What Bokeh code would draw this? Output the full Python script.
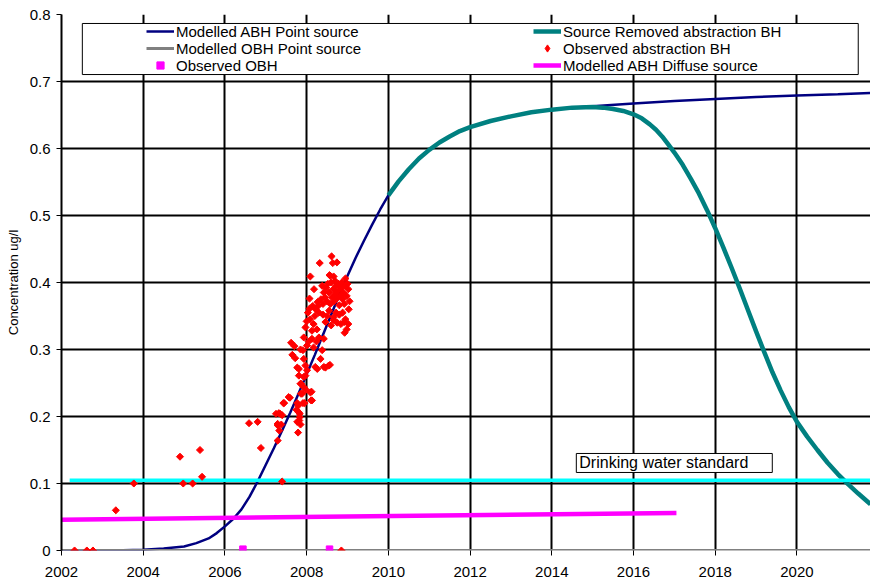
import math
from bokeh.plotting import figure
from bokeh.models import Range1d, FixedTicker, Legend, LegendItem, BoxAnnotation, Label
from bokeh.embed import file_html
from bokeh.resources import INLINE

FONT = "Liberation Sans"

# ---------------- data ----------------
x_ticks = [2002, 2004, 2006, 2008, 2010, 2012, 2014, 2016, 2018, 2020]
y_ticks = [0, 0.1, 0.2, 0.3, 0.4, 0.5, 0.6, 0.7, 0.8]
y_tick_labels = ["0", "0.1", "0.2", "0.3", "0.4", "0.5", "0.6", "0.7", "0.8"]

# Modelled ABH Point source
abh_year = [2002.0, 2003.0, 2003.5, 2004.0, 2004.5, 2005.0, 2005.3, 2005.6, 2005.8,
            2006.0, 2006.2, 2006.4, 2006.6, 2006.8, 2007.0, 2007.2, 2007.4, 2007.6,
            2007.8, 2008.0, 2008.2, 2008.4, 2008.6, 2008.8, 2009.0, 2009.2, 2009.4,
            2009.6, 2009.8, 2010.0, 2010.25, 2010.5, 2010.75, 2011.0, 2011.25, 2011.5,
            2011.75, 2012.0, 2012.5, 2013.0, 2013.5, 2014.0, 2014.5, 2015.0, 2016.0,
            2017.0, 2018.0, 2019.0, 2020.0, 2021.0, 2021.8]
abh_conc = [0.0, 0.0, 0.0003, 0.001, 0.003, 0.006, 0.011, 0.018, 0.026,
            0.036, 0.047, 0.061, 0.080, 0.103, 0.128, 0.153, 0.179, 0.206,
            0.234, 0.263, 0.292, 0.322, 0.352, 0.382, 0.410, 0.437, 0.462,
            0.486, 0.509, 0.530, 0.551, 0.569, 0.585, 0.598, 0.609, 0.618,
            0.626, 0.632, 0.641, 0.648, 0.654, 0.658, 0.661, 0.663, 0.667,
            0.671, 0.674, 0.677, 0.679, 0.681, 0.683]

# Source Removed abstraction BH
removed_year = [2010.0, 2010.25, 2010.5, 2010.75, 2011.0, 2011.25, 2011.5, 2011.75,
                2012.0, 2012.5, 2013.0, 2013.5, 2014.0, 2014.5, 2015.0, 2015.25,
                2015.5, 2015.75, 2016.0, 2016.2, 2016.4, 2016.55, 2016.7, 2016.85,
                2017.0, 2017.2, 2017.4, 2017.6, 2017.8, 2018.0, 2018.2, 2018.4,
                2018.6, 2018.8, 2019.0, 2019.2, 2019.4, 2019.6, 2019.8, 2020.0,
                2020.25, 2020.5, 2020.75, 2021.0, 2021.25, 2021.5, 2021.8]
removed_conc = [0.530, 0.551, 0.569, 0.585, 0.598, 0.609, 0.618, 0.626,
                0.632, 0.641, 0.648, 0.654, 0.658, 0.661, 0.662, 0.661,
                0.659, 0.656, 0.651, 0.645, 0.636, 0.628, 0.618, 0.606,
                0.594, 0.576, 0.555, 0.533, 0.508, 0.481, 0.452, 0.422,
                0.391, 0.359, 0.327, 0.296, 0.266, 0.239, 0.214, 0.192,
                0.170, 0.150, 0.131, 0.114, 0.099, 0.085, 0.069]

# Modelled OBH Point source
obh_year = [2002.0, 2021.8]
obh_conc = [0.0, 0.0]

# Modelled ABH Diffuse source
diffuse_year = [2002.0, 2017.05]
diffuse_conc = [0.046, 0.056]

# Drinking water standard
standard_year = [2002.2, 2021.8]
standard_conc = [0.105, 0.105]

# Observed OBH
obs_obh_year = [2006.44, 2008.56]
obs_obh_conc = [0.002, 0.002]

# Observed abstraction BH
obs_abh_year = [
    2002.32, 2002.62, 2002.77, 2003.33, 2003.77, 2004.90, 2004.98, 2005.21, 2005.39, 2005.44,
    2006.59, 2006.80, 2006.88, 2007.40, 2008.85,
    2007.25, 2007.29, 2007.29, 2007.33, 2007.35, 2007.38, 2007.40, 2007.45, 2007.59, 2007.43,
    2007.32, 2007.29, 2007.56,
    2007.79, 2007.82, 2007.85, 2007.83, 2007.79, 2007.75, 2007.95, 2007.86, 2007.86, 2007.93,
    2007.98, 2008.12, 2008.13, 2007.81, 2007.83, 2007.77, 2007.77, 2007.91, 2008.11, 2008.09,
    2007.89, 2007.85, 2007.81, 2007.93, 2007.77, 2007.97, 2008.21, 2008.54, 2007.72, 2007.93,
    2008.34, 2008.42, 2008.57, 2007.81, 2008.01, 2008.26, 2007.97, 2008.46,
    2007.85, 2007.91, 2008.01, 2008.17, 2008.38, 2008.05, 2008.13, 2008.24, 2008.30, 2007.93,
    2008.42, 2008.13, 2007.97, 2008.00, 2008.17, 2008.08, 2008.25, 2008.46, 2008.66, 2008.84,
    2008.92, 2008.66, 2008.20, 2008.30, 2008.07, 2008.15, 2008.22, 2008.28, 2008.40, 2008.50,
    2008.55, 2008.72, 2008.80, 2008.95, 2009.02, 2008.60, 2008.07, 2008.27, 2008.35,
    2008.40, 2008.45, 2008.50, 2008.55, 2008.58, 2008.62, 2008.65, 2008.68, 2008.70, 2008.72,
    2008.75, 2008.78, 2008.80, 2008.82, 2008.85, 2008.88, 2008.90, 2008.92, 2008.95, 2008.98,
    2009.02, 2009.05, 2009.03, 2008.48, 2008.52, 2008.60, 2008.66, 2008.56, 2008.58, 2008.95,
    2008.09, 2008.61, 2008.32, 2008.64, 2008.74, 2008.70, 2008.78, 2008.86, 2009.00, 2008.42,
    2008.38, 2008.88, 2008.93, 2008.98, 2008.75, 2007.65, 2007.70, 2007.62, 2008.03, 2008.18,
]
obs_abh_conc = [
    0.000, 0.000, 0.000, 0.060, 0.100, 0.140, 0.100, 0.100, 0.150, 0.110,
    0.190, 0.192, 0.153, 0.103, 0.000,
    0.204, 0.189, 0.164, 0.179, 0.204, 0.188, 0.202, 0.220, 0.228, 0.220,
    0.205, 0.187, 0.229,
    0.176, 0.194, 0.188, 0.204, 0.216, 0.210, 0.220, 0.234, 0.249, 0.244,
    0.240, 0.237, 0.224, 0.206, 0.199, 0.192, 0.220, 0.220, 0.224, 0.236,
    0.234, 0.249, 0.261, 0.259, 0.273, 0.276, 0.274, 0.276, 0.287, 0.286,
    0.286, 0.274, 0.277, 0.271, 0.269, 0.271, 0.261, 0.273,
    0.300, 0.299, 0.306, 0.303, 0.299, 0.312, 0.316, 0.312, 0.318, 0.318,
    0.316, 0.328, 0.333, 0.342, 0.338, 0.345, 0.330, 0.341, 0.348, 0.338,
    0.341, 0.344, 0.350, 0.355, 0.361, 0.365, 0.360, 0.365, 0.352, 0.350,
    0.358, 0.355, 0.352, 0.345, 0.338, 0.336, 0.376, 0.371, 0.375,
    0.368, 0.378, 0.372, 0.385, 0.368, 0.378, 0.390, 0.372, 0.383, 0.395,
    0.377, 0.388, 0.366, 0.380, 0.392, 0.375, 0.385, 0.368, 0.395, 0.380,
    0.390, 0.372, 0.360, 0.392, 0.398, 0.400, 0.409, 0.411, 0.410, 0.406,
    0.409, 0.439, 0.429, 0.429, 0.430, 0.402, 0.398, 0.400, 0.398, 0.385,
    0.395, 0.355, 0.325, 0.330, 0.340, 0.292, 0.305, 0.310, 0.355, 0.390,
]

legend_col1 = ["Modelled ABH Point source", "Modelled OBH Point source", "Observed OBH"]
legend_col2 = ["Source Removed abstraction BH", "Observed abstraction BH", "Modelled ABH Diffuse source"]

# ---------------- figure ----------------
p = figure(width=870, height=582, output_backend="svg", toolbar_location=None,
           x_range=Range1d(2002, 2021.8), y_range=Range1d(0, 0.8),
           min_border_left=61, min_border_right=0, min_border_top=14, min_border_bottom=32)
p.outline_line_color = None
p.background_fill_color = "white"
p.border_fill_color = "white"

p.xaxis.ticker = FixedTicker(ticks=x_ticks)
p.yaxis.ticker = FixedTicker(ticks=y_ticks)
p.yaxis.major_label_overrides = {t: l for t, l in zip(y_ticks, y_tick_labels)}

for ax in (p.xaxis, p.yaxis):
    ax.major_label_text_font = FONT
    ax.major_label_text_font_size = "15px"
    ax.major_label_text_color = "black"
    ax.major_tick_line_color = "black"
    ax.major_tick_line_width = 1
    ax.minor_tick_line_color = None
p.yaxis.major_tick_in = 0
p.yaxis.major_tick_out = 5
p.xaxis.major_tick_in = -5
p.xaxis.major_tick_out = 0
p.xaxis.axis_line_color = None
p.yaxis.axis_line_color = "black"
p.yaxis.axis_line_width = 2
p.xaxis.major_label_standoff = 16
p.yaxis.major_label_standoff = 6
p.yaxis.axis_label = "Concentration ug/l"
p.yaxis.axis_label_text_font = FONT
p.yaxis.axis_label_text_font_size = "13px"
p.yaxis.axis_label_text_font_style = "normal"
p.yaxis.axis_label_text_color = "black"
p.yaxis.axis_label_standoff = 6

p.grid.grid_line_color = "black"
p.grid.grid_line_width = 2

# ---------------- series ----------------
r_abh = p.line(abh_year, abh_conc, line_color="#000080", line_width=2.5)
r_removed = p.line(removed_year, removed_conc, line_color="#008080", line_width=4.5)
r_obh = p.line(obh_year, obh_conc, line_color="#808080", line_width=3)
r_obs_obh = p.scatter(obs_obh_year, obs_obh_conc, marker="square", size=6.5,
                      fill_color="#FF00FF", line_color="#FF00FF")
p.line(standard_year, standard_conc, line_color="#00FFFF", line_width=3.5)
r_obs = p.scatter(obs_abh_year, obs_abh_conc, marker="square", angle=math.pi / 4, size=5,
                  fill_color="#FF0000", line_color="#FF0000")
r_diff = p.line(diffuse_year, diffuse_conc, line_color="#FF00FF", line_width=4.5)
# legend key for the diamond markers (the legend draws markers unrotated)
r_obs_key = p.scatter([float("nan")], [float("nan")], marker="diamond", size=7,
                      fill_color="#FF0000", line_color="#FF0000")

# ---------------- legend ----------------
box = BoxAnnotation(left=2002.51, right=2021.50, top=0.7866, bottom=0.7104,
                    fill_color="white", fill_alpha=1.0, line_color="black",
                    line_width=1, line_alpha=1.0)
p.add_layout(box)

row_renderers = [([r_abh], [r_removed]), ([r_obh], [r_obs_key]), ([r_obs_obh], [r_diff])]
row_bottoms = [510, 493, 476]
for i in range(3):
    items = [LegendItem(label=legend_col1[i], renderers=row_renderers[i][0]),
             LegendItem(label=legend_col2[i], renderers=row_renderers[i][1])]
    lg = Legend(items=items, orientation="horizontal", location=(85, row_bottoms[i]),
                border_line_color=None, background_fill_alpha=0.0, padding=0, margin=0,
                spacing=0, label_height=18, glyph_height=18, glyph_width=28,
                label_standoff=2, label_width=357,
                label_text_font=FONT, label_text_font_size="15px", label_text_color="black")
    p.add_layout(lg)

label = Label(x=2014.60, y=0.1448, text="Drinking water standard", anchor="top_left",
              text_font=FONT, text_font_size="16px", text_color="black",
              border_line_color="black", border_line_width=1,
              background_fill_color="white",
              padding=dict(left=3, right=24, top=1, bottom=1))
p.add_layout(label)

open("out.html", "w").write(file_html(p, INLINE))
